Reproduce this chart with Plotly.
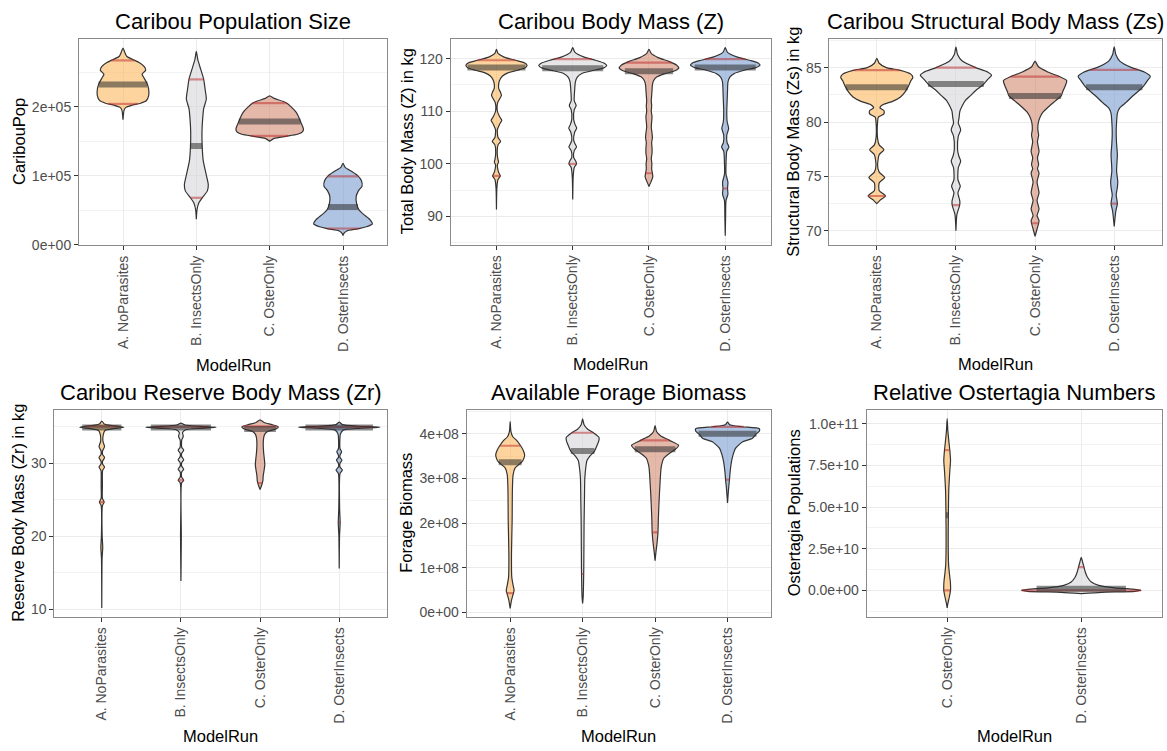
import numpy as np
import plotly.graph_objects as go

W, H = 1167, 751
FONT = "Liberation Sans, Arial, Helvetica, sans-serif"

runs = ["A. NoParasites", "B. InsectsOnly", "C. OsterOnly", "D. OsterInsects"]
run_fills = ["rgba(252,183,93,0.6)", "rgba(213,213,218,0.6)",
             "rgba(212,138,113,0.6)", "rgba(122,157,207,0.6)"]

# ---- density profiles: (levels from top to bottom, half-width in category units)
pop_profiles = {
    "A. NoParasites": ([2.85e5, 2.80e5, 2.73e5, 2.68e5, 2.64e5, 2.58e5, 2.53e5, 2.47e5, 2.41e5, 2.33e5,
                        2.25e5, 2.16e5, 2.09e5, 2.05e5, 2.02e5, 1.99e5, 1.95e5, 1.81e5],
                       [0, 0.02, 0.05, 0.14, 0.22, 0.29, 0.31, 0.26, 0.29, 0.33,
                        0.35, 0.35, 0.32, 0.24, 0.12, 0.04, 0.015, 0]),
    "B. InsectsOnly": ([2.80e5, 2.68e5, 2.54e5, 2.40e5, 2.25e5, 2.11e5, 1.97e5, 1.82e5, 1.64e5, 1.42e5,
                        1.21e5, 1.01e5, 0.87e5, 0.78e5, 0.68e5, 0.61e5, 0.51e5, 0.37e5],
                       [0, 0.02, 0.06, 0.10, 0.12, 0.136, 0.10, 0.086, 0.077, 0.08,
                        0.095, 0.136, 0.163, 0.15, 0.08, 0.036, 0.01, 0]),
    "C. OsterOnly": ([2.157e5, 2.12e5, 2.06e5, 1.99e5, 1.92e5, 1.84e5, 1.76e5, 1.68e5, 1.64e5, 1.60e5,
                      1.57e5, 1.54e5, 1.50e5],
                     [0, 0.06, 0.22, 0.30, 0.36, 0.40, 0.43, 0.46, 0.45, 0.38,
                      0.22, 0.06, 0]),
    "D. OsterInsects": ([1.18e5, 1.12e5, 1.06e5, 1.00e5, 0.93e5, 0.85e5, 0.78e5, 0.70e5, 0.60e5, 0.50e5,
                         0.44e5, 0.36e5, 0.30e5, 0.26e5, 0.23e5, 0.20e5, 0.16e5, 0.133e5],
                        [0, 0.03, 0.12, 0.20, 0.25, 0.26, 0.21, 0.18, 0.185, 0.22,
                         0.28, 0.37, 0.40, 0.32, 0.20, 0.05, 0.01, 0]),
}
pop_quantiles = {"A. NoParasites": (2.04e5, 2.32e5, 2.67e5), "B. InsectsOnly": (0.68e5, 1.43e5, 2.395e5),
                 "C. OsterOnly": (1.576e5, 1.786e5, 2.052e5), "D. OsterInsects": (0.235e5, 0.546e5, 0.99e5)}

mass_profiles = {
    "A. NoParasites": ([121.8, 121.0, 120.3, 119.7, 119.2, 118.8, 118.3, 117.8, 117.3, 116.7, 116.0, 115.3,
                        114.3, 113.7, 113.0, 112.3, 111.6, 110.0, 109.0, 108.3, 107.5, 106.5, 105.0, 104.3,
                        103.6, 102.0, 100.8, 100.4, 99.8, 98.5, 97.7, 97.0, 95.5, 91.3],
                       [0, 0.02, 0.10, 0.25, 0.37, 0.40, 0.38, 0.28, 0.15, 0.08, 0.045, 0.03,
                        0.03, 0.05, 0.065, 0.04, 0.015, 0.012, 0.04, 0.07, 0.04, 0.012, 0.02, 0.055,
                        0.02, 0.01, 0.02, 0.028, 0.012, 0.025, 0.05, 0.02, 0.006, 0]),
    "B. InsectsOnly": ([122.1, 121.2, 120.3, 119.7, 119.1, 118.7, 118.2, 117.7, 117.2, 116.5, 115.6, 114.0,
                        112.0, 111.1, 110.3, 108.5, 107.5, 106.8, 106.0, 104.5, 103.8, 103.2, 102.5, 101.2,
                        100.5, 100.0, 99.3, 97.5, 93.2],
                       [0, 0.03, 0.15, 0.30, 0.42, 0.445, 0.40, 0.25, 0.12, 0.06, 0.035, 0.025,
                        0.02, 0.045, 0.02, 0.012, 0.03, 0.052, 0.025, 0.012, 0.03, 0.05, 0.02, 0.012,
                        0.04, 0.05, 0.02, 0.006, 0]),
    "C. OsterOnly": ([121.8, 121.0, 120.2, 119.5, 118.8, 118.2, 117.7, 117.1, 116.5, 115.8, 115.0, 114.0,
                      113.0, 112.0, 111.0, 110.0, 109.0, 108.0, 107.0, 106.0, 105.0, 104.0, 103.0, 102.0,
                      101.0, 100.0, 99.0, 98.2, 97.5, 96.7, 95.7],
                     [0, 0.03, 0.12, 0.26, 0.36, 0.39, 0.34, 0.20, 0.10, 0.06, 0.045, 0.04,
                      0.035, 0.03, 0.035, 0.03, 0.04, 0.035, 0.03, 0.038, 0.045, 0.035, 0.04, 0.04,
                      0.03, 0.038, 0.035, 0.045, 0.05, 0.03, 0]),
    "D. OsterInsects": ([122.1, 121.2, 120.3, 119.7, 119.2, 118.8, 118.3, 117.8, 117.2, 116.5, 115.5, 114.0,
                         112.0, 110.0, 108.0, 106.7, 105.5, 104.0, 103.2, 102.4, 100.0, 98.0, 96.5, 95.3,
                         94.2, 93.0, 90.0, 86.3],
                        [0, 0.03, 0.16, 0.32, 0.43, 0.456, 0.40, 0.25, 0.12, 0.06, 0.035, 0.03,
                         0.025, 0.02, 0.025, 0.045, 0.02, 0.025, 0.048, 0.02, 0.01, 0.01, 0.035, 0.03,
                         0.035, 0.01, 0.005, 0]),
}
mass_quantiles = {"A. NoParasites": (97.7, 118.3, 119.7), "B. InsectsOnly": (100.0, 118.2, 119.9),
                  "C. OsterOnly": (98.2, 117.6, 119.25), "D. OsterInsects": (95.3, 118.3, 119.9)}

struct_profiles = {
    "A. NoParasites": ([85.85, 85.4, 85.0, 84.75, 84.4, 84.1, 83.8, 83.3, 82.8, 82.3, 81.9, 81.6, 81.3,
                        81.05, 80.75, 80.45, 80.0, 78.5, 77.9, 77.45, 77.0, 76.0, 75.4, 74.9, 74.4,
                        73.7, 73.2, 72.8, 72.5],
                       [0, 0.03, 0.12, 0.30, 0.43, 0.456, 0.43, 0.40, 0.36, 0.30, 0.20, 0.08, 0.04,
                        0.09, 0.09, 0.02, 0.01, 0.01, 0.03, 0.09, 0.03, 0.01, 0.03, 0.10, 0.03,
                        0.03, 0.11, 0.04, 0]),
    "B. InsectsOnly": ([86.9, 86.2, 85.6, 85.0, 84.6, 84.3, 83.9, 83.4, 82.9, 82.4, 82.0, 81.5, 81.0,
                        80.4, 79.9, 79.3, 78.7, 77.5, 76.9, 76.4, 75.8, 74.7, 74.1, 73.5, 72.7,
                        72.3, 71.5, 70.0],
                       [0, 0.02, 0.08, 0.25, 0.40, 0.45, 0.40, 0.34, 0.25, 0.18, 0.12, 0.08, 0.05,
                        0.04, 0.03, 0.06, 0.03, 0.02, 0.035, 0.06, 0.03, 0.025, 0.055, 0.025, 0.05,
                        0.045, 0.012, 0]),
    "C. OsterOnly": ([85.6, 85.1, 84.6, 84.2, 83.8, 83.3, 82.8, 82.4, 81.9, 81.4, 80.9, 80.4, 79.9,
                      79.3, 78.8, 78.2, 77.3, 76.7, 76.1, 75.7, 75.3, 74.5, 73.5, 72.8, 72.0,
                      71.4, 70.9, 70.3, 69.5],
                     [0, 0.04, 0.16, 0.30, 0.40, 0.38, 0.35, 0.33, 0.25, 0.17, 0.10, 0.06, 0.04,
                      0.035, 0.045, 0.03, 0.05, 0.03, 0.045, 0.03, 0.05, 0.025, 0.05, 0.025, 0.05,
                      0.025, 0.05, 0.03, 0]),
    "D. OsterInsects": ([86.9, 86.2, 85.6, 85.0, 84.6, 84.2, 83.8, 83.3, 82.8, 82.3, 81.8, 81.3, 80.8,
                         80.0, 79.0, 78.0, 77.0, 76.3, 75.5, 74.5, 74.0, 73.3, 72.5, 71.8, 70.4],
                        [0, 0.02, 0.07, 0.22, 0.38, 0.456, 0.42, 0.37, 0.30, 0.22, 0.15, 0.07, 0.04,
                         0.03, 0.025, 0.03, 0.04, 0.035, 0.03, 0.045, 0.04, 0.025, 0.04, 0.02, 0]),
}
struct_quantiles = {"A. NoParasites": (73.2, 83.2, 84.76), "B. InsectsOnly": (72.36, 83.5, 85.0),
                    "C. OsterOnly": (70.7, 82.4, 84.18), "D. OsterInsects": (72.5, 83.2, 84.8)}

reserve_profiles = {
    "A. NoParasites": ([35.8, 35.4, 35.15, 34.95, 34.75, 34.5, 34.0, 33.0, 32.3, 31.7, 31.2, 30.8, 30.3,
                        29.9, 29.5, 29.0, 27.0, 25.2, 24.7, 24.2, 20.0, 18.5, 17.0, 10.2],
                       [0, 0.03, 0.15, 0.28, 0.15, 0.04, 0.02, 0.015, 0.035, 0.01, 0.01, 0.035, 0.01,
                        0.01, 0.035, 0.01, 0.008, 0.008, 0.03, 0.008, 0.005, 0.012, 0.004, 0]),
    "B. InsectsOnly": ([35.5, 35.25, 35.05, 34.95, 34.8, 34.6, 34.2, 33.7, 33.2, 32.2, 31.8, 31.4, 30.9,
                        30.5, 30.1, 29.6, 29.2, 28.8, 28.1, 27.7, 27.3, 20.0, 13.9],
                       [0, 0.05, 0.25, 0.445, 0.25, 0.06, 0.02, 0.03, 0.01, 0.01, 0.035, 0.01, 0.01,
                        0.035, 0.01, 0.01, 0.035, 0.01, 0.01, 0.035, 0.008, 0.005, 0]),
    "C. OsterOnly": ([35.95, 35.6, 35.3, 35.0, 34.7, 34.4, 34.0, 33.5, 32.5, 31.5, 30.5, 29.8, 29.0,
                      28.3, 27.6, 27.0, 26.4],
                     [0, 0.05, 0.15, 0.23, 0.20, 0.10, 0.06, 0.045, 0.04, 0.045, 0.055, 0.06, 0.05,
                      0.04, 0.035, 0.02, 0]),
    "D. OsterInsects": ([35.65, 35.3, 35.08, 34.95, 34.8, 34.55, 34.0, 32.0, 31.6, 31.1, 30.8, 30.45, 30.0,
                         29.5, 29.1, 28.6, 24.0, 21.9, 20.0, 15.6],
                        [0, 0.04, 0.25, 0.515, 0.25, 0.05, 0.015, 0.01, 0.03, 0.01, 0.01, 0.035, 0.01,
                         0.01, 0.04, 0.01, 0.005, 0.012, 0.004, 0]),
}
reserve_quantiles = {"A. NoParasites": (24.7, 34.9, 35.05), "B. InsectsOnly": (27.7, 34.9, 35.0),
                     "C. OsterOnly": (27.3, 34.7, 35.05), "D. OsterInsects": (21.9, 34.9, 35.0)}

forage_profiles = {
    "A. NoParasites": ([4.27e8, 4.05e8, 3.93e8, 3.85e8, 3.73e8, 3.63e8, 3.52e8, 3.41e8, 3.36e8, 3.23e8,
                        3.08e8, 2.78e8, 2.04e8, 1.31e8, 0.79e8, 0.61e8, 0.49e8, 0.38e8, 0.27e8, 0.09e8],
                       [0, 0.01, 0.036, 0.09, 0.144, 0.18, 0.2, 0.18, 0.157, 0.067,
                        0.04, 0.031, 0.027, 0.018, 0.022, 0.04, 0.054, 0.036, 0.018, 0]),
    "B. InsectsOnly": ([4.33e8, 4.2e8, 4.1e8, 4.02e8, 3.92e8, 3.85e8, 3.74e8, 3.6e8, 3.5e8, 3.4e8,
                        3.26e8, 3.0e8, 2.5e8, 2.0e8, 1.5e8, 1.0e8, 0.6e8, 0.35e8, 0.2e8],
                       [0, 0.02, 0.07, 0.15, 0.225, 0.225, 0.20, 0.16, 0.10, 0.06,
                        0.045, 0.03, 0.025, 0.02, 0.018, 0.016, 0.012, 0.008, 0]),
    "C. OsterOnly": ([4.18e8, 4.05e8, 3.95e8, 3.85e8, 3.74e8, 3.65e8, 3.56e8, 3.45e8, 3.3e8, 3.19e8,
                      2.8e8, 2.45e8, 2.08e8, 1.79e8, 1.55e8, 1.35e8, 1.16e8],
                     [0, 0.02, 0.08, 0.20, 0.325, 0.28, 0.20, 0.12, 0.09, 0.08,
                      0.065, 0.054, 0.045, 0.04, 0.027, 0.012, 0]),
    "D. OsterInsects": ([4.26e8, 4.2e8, 4.155e8, 4.11e8, 4.06e8, 4.0e8, 3.89e8, 3.82e8, 3.67e8, 3.52e8,
                         3.37e8, 3.15e8, 2.97e8, 2.78e8, 2.45e8],
                        [0, 0.03, 0.2, 0.44, 0.44, 0.40, 0.34, 0.21, 0.11, 0.075,
                         0.054, 0.036, 0.027, 0.015, 0]),
}
forage_quantiles = {"A. NoParasites": (0.43e8, 3.36e8, 3.73e8), "B. InsectsOnly": (0.86e8, 3.61e8, 4.02e8),
                    "C. OsterOnly": (1.79e8, 3.65e8, 3.85e8), "D. OsterInsects": (2.97e8, 4.0e8, 4.15e8)}

oster_runs = ["C. OsterOnly", "D. OsterInsects"]
oster_profiles = {
    "C. OsterOnly": ([10.3e10, 9.6e10, 9.0e10, 8.4e10, 7.8e10, 7.2e10, 6.8e10, 6.0e10, 5.2e10, 4.5e10,
                      3.5e10, 2.5e10, 1.5e10, 1.0e10, 0.5e10, 0.0, -0.4e10, -0.8e10, -1.05e10],
                     [0, 0.005, 0.012, 0.02, 0.025, 0.02, 0.017, 0.012, 0.01, 0.009,
                      0.008, 0.008, 0.011, 0.017, 0.024, 0.025, 0.016, 0.005, 0]),
    "D. OsterInsects": ([1.98e10, 1.7e10, 1.4e10, 1.1e10, 0.8e10, 0.5e10, 0.3e10, 0.15e10, 0.06e10, 0.0,
                         -0.06e10, -0.12e10, -0.2e10],
                        [0, 0.01, 0.02, 0.03, 0.045, 0.075, 0.13, 0.25, 0.40, 0.445,
                         0.40, 0.15, 0]),
}
oster_quantiles = {"C. OsterOnly": (0.0, 4.5e10, 8.42e10), "D. OsterInsects": (0.0, 0.1e10, 1.39e10)}

# ---- axis ticks
pop_ticks, pop_labels = [0, 1e5, 2e5], ["0e+00", "1e+05", "2e+05"]
mass_ticks = [90, 100, 110, 120]
struct_ticks = [70, 75, 80, 85]
reserve_ticks = [10, 20, 30]
forage_ticks = [0, 1e8, 2e8, 3e8, 4e8]
forage_labels = ["0e+00", "1e+08", "2e+08", "3e+08", "4e+08"]
oster_ticks = [0, 2.5e10, 5e10, 7.5e10, 1e11]
oster_labels = ["0.0e+00", "2.5e+10", "5.0e+10", "7.5e+10", "1.0e+11"]

panels = [
    dict(title="Caribou Population Size", ytitle="CaribouPop", box=(79, 39.3, 387, 247.7),
         yrange=(-500, 2.982e5), ticks=pop_ticks, labels=pop_labels,
         minor=[5e4, 1.5e5, 2.5e5], cats=runs, prof=pop_profiles, q=pop_quantiles, ytx=19),
    dict(title="Caribou Body Mass (Z)", ytitle="Total Body Mass (Z) in kg", box=(450.7, 39.3, 771, 247.3),
         yrange=(84.61, 123.77), ticks=mass_ticks, labels=[str(t) for t in mass_ticks],
         minor=[85, 95, 105, 115], cats=runs, prof=mass_profiles, q=mass_quantiles, ytx=406.5),
    dict(title="Caribou Structural Body Mass (Zs)", ytitle="Structural Body Mass (Zs) in kg",
         box=(829.3, 39.3, 1161.7, 247.3), yrange=(68.73, 87.64), ticks=struct_ticks,
         labels=[str(t) for t in struct_ticks], minor=[72.5, 77.5, 82.5, 87.5], cats=runs,
         prof=struct_profiles, q=struct_quantiles, ytx=793),
    dict(title="Caribou Reserve Body Mass (Zr)", ytitle="Reserve Body Mass (Zr) in kg",
         box=(54.3, 414.3, 386.7, 623.3), yrange=(9.01, 37.32), ticks=reserve_ticks,
         labels=[str(t) for t in reserve_ticks], minor=[15, 25, 35], cats=runs,
         prof=reserve_profiles, q=reserve_quantiles, ytx=18.5),
    dict(title="Available Forage Biomass", ytitle="Forage Biomass", box=(466.7, 414.3, 771, 623.3),
         yrange=(-0.095e8, 4.532e8), ticks=forage_ticks, labels=forage_labels,
         minor=[0.5e8, 1.5e8, 2.5e8, 3.5e8, 4.5e8], cats=runs, prof=forage_profiles,
         q=forage_quantiles, ytx=406.5),
    dict(title="Relative Ostertagia Numbers", ytitle="Ostertagia Populations", box=(866.7, 414.3, 1161.7, 623.3),
         yrange=(-1.58e10, 10.83e10), ticks=oster_ticks, labels=oster_labels,
         minor=[-1.25e10, 1.25e10, 3.75e10, 6.25e10, 8.75e10], cats=oster_runs, prof=oster_profiles,
         q=oster_quantiles, ytx=794),
]

fig = go.Figure()
annotations = []
GRID = "#EBEBEB"
TICKC = "#4D4D4D"
QUANT_RED = "rgba(185,40,40,0.5)"
MEDIAN_GREY = "rgba(45,45,45,0.55)"

for i, p in enumerate(panels, start=1):
    xa, ya = f"x{i}", f"y{i}"
    left, top, right, bottom = p["box"]
    n = len(p["cats"])
    for k, cat in enumerate(p["cats"]):
        c = k + 1
        lev, hw = (np.array(v, dtype=float) for v in p["prof"][cat])
        xs = np.concatenate([c + hw, (c - hw)[::-1]])
        ys = np.concatenate([lev, lev[::-1]])
        fig.add_trace(go.Scatter(x=xs, y=ys, xaxis=xa, yaxis=ya, mode="lines", fill="toself",
                                 fillcolor=run_fills[k], line=dict(color="#333333", width=1.2,
                                                                   shape="spline", smoothing=0.6),
                                 hoverinfo="skip", showlegend=False))
        lo, med, hi = p["q"][cat]
        for val, col, wd in ((lo, QUANT_RED, 2.2), (hi, QUANT_RED, 2.2), (med, MEDIAN_GREY, 6)):
            half = np.interp(val, lev[::-1], hw[::-1])
            fig.add_trace(go.Scatter(x=[c - half, c + half], y=[val, val], xaxis=xa, yaxis=ya,
                                     mode="lines", line=dict(color=col, width=wd),
                                     hoverinfo="skip", showlegend=False))

    axis_common = dict(showline=True, mirror=True, linecolor="#8A8A8A", linewidth=1,
                       ticks="outside", ticklen=4, tickcolor="#333333", tickwidth=1,
                       zeroline=False, showgrid=True, gridcolor=GRID, gridwidth=1,
                       tickfont=dict(family=FONT, size=14, color=TICKC))
    fig.update_layout(**{
        f"xaxis{i}": dict(axis_common, domain=[left / W, right / W], anchor=ya,
                          range=[0.4, n + 0.6], tickmode="array",
                          tickvals=list(range(1, n + 1)), ticktext=p["cats"], tickangle=-90),
        f"yaxis{i}": dict(axis_common, domain=[1 - bottom / H, 1 - top / H], anchor=xa,
                          range=list(p["yrange"]), tickmode="array", tickvals=p["ticks"],
                          ticktext=p["labels"],
                          minor=dict(tickmode="array", tickvals=p["minor"], showgrid=True,
                                     gridcolor="#F2F2F2", gridwidth=0.7, ticks="")),
    })

    cx = (left + right) / 2
    annotations.append(dict(text=p["title"], x=cx / W, y=1 - (top - 18) / H, xref="paper", yref="paper",
                            xanchor="center", yanchor="middle", showarrow=False,
                            font=dict(family=FONT, size=22, color="black")))
    annotations.append(dict(text=p["ytitle"], x=p["ytx"] / W, y=1 - ((top + bottom) / 2) / H,
                            xref="paper", yref="paper", xanchor="center", yanchor="middle",
                            textangle=-90, showarrow=False,
                            font=dict(family=FONT, size=16.5, color="black")))
    annotations.append(dict(text="ModelRun", x=cx / W, y=1 - (bottom + 121) / H, xref="paper", yref="paper",
                            xanchor="center", yanchor="middle", showarrow=False,
                            font=dict(family=FONT, size=16.5, color="black")))

fig.update_layout(width=W, height=H, margin=dict(l=0, r=0, t=0, b=0),
                  paper_bgcolor="white", plot_bgcolor="white",
                  annotations=annotations, showlegend=False)

fig.write_html("out.html")
